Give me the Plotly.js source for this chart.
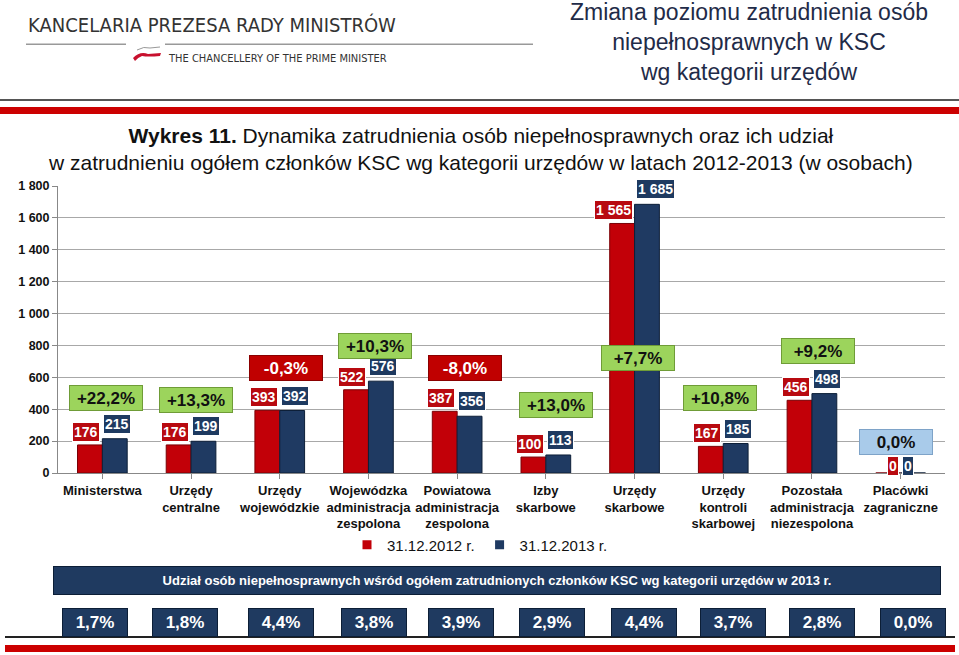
<!DOCTYPE html>
<html>
<head>
<meta charset="utf-8">
<script src="https://cdn.plot.ly/plotly-3.0.1.min.js"></script>
<style>html,body{margin:0;padding:0;background:#fff;}#chart{width:959px;height:655px;}</style>
</head>
<body>
<div id="chart"></div>
<script>
// ---- data ----
const categories = ['Ministerstwa','Urzędy<br>centralne','Urzędy<br>wojewódzkie','Wojewódzka<br>administracja<br>zespolona','Powiatowa<br>administracja<br>zespolona','Izby<br>skarbowe','Urzędy<br>skarbowe','Urzędy<br>kontroli<br>skarbowej','Pozostała<br>administracja<br>niezespolona','Placówki<br>zagraniczne'];
const emp2012 = [176, 176, 393, 522, 387, 100, 1565, 167, 456, 0];
const emp2013 = [215, 199, 392, 576, 356, 113, 1685, 185, 498, 0];
const changeLabels = ['+22,2%','+13,3%','-0,3%','+10,3%','-8,0%','+13,0%','+7,7%','+10,8%','+9,2%','0,0%'];
const shareLabels = ['1,7%','1,8%','4,4%','3,8%','3,9%','2,9%','4,4%','3,7%','2,8%','0,0%'];
const yTickVals = [0, 200, 400, 600, 800, 1000, 1200, 1400, 1600, 1800];
const seriesNames = ['31.12.2012 r.', '31.12.2013 r.'];

// ---- layout helpers (positions / styles) ----
const changeShiftY = [41, 41, 42, 35, 43, 50, -154, 46, 43, 31];
const changeShiftX = [4, 5, 6, 7, 8, 10, 3, -3, 6, -5];
const shareShiftX = [-7, -6, 1, 6, 4, 6, 9, 10, 10, 12];
const RED = '#C20008', BLUE = '#1F3A62';
const FONT = 'Liberation Sans, Arial, sans-serif';

function fmt(n) { return String(n).replace(/\B(?=(\d{3})+(?!\d))/g, ' '); }

const idx = categories.map((c, i) => i);

const traces = [
  {type: 'bar', name: seriesNames[0], x: idx, y: emp2012, showlegend: false, legendgroup: 'a',
   marker: {color: RED, line: {color: '#7a0006', width: 1}}, hoverinfo: 'skip'},
  {type: 'bar', name: seriesNames[1], x: idx, y: emp2013, showlegend: false, legendgroup: 'b',
   marker: {color: BLUE, line: {color: '#0d1f38', width: 1}}, hoverinfo: 'skip'},
  {type: 'scatter', mode: 'markers', name: seriesNames[0], x: [null], y: [null], legendgroup: 'a',
   marker: {symbol: 'square', size: 9, color: RED}},
  {type: 'scatter', mode: 'markers', name: seriesNames[1], x: [null], y: [null], legendgroup: 'b',
   marker: {symbol: 'square', size: 9, color: BLUE}}
];

const annotations = [];
const shapes = [];

// value labels
idx.forEach(i => {
  annotations.push({x: i, y: emp2012[i], xref: 'x', yref: 'y', text: '<b>' + fmt(emp2012[i]) + '</b>',
    showarrow: false, xanchor: 'right', yanchor: 'middle', xshift: -2, yshift: emp2012[i] === 0 ? 7 : 13,
    font: {family: FONT, size: 14, color: '#fff'}, bgcolor: '#B80A10', bordercolor: '#ffffff', borderwidth: 1, borderpad: 1});
  annotations.push({x: i, y: emp2013[i], xref: 'x', yref: 'y', text: '<b>' + fmt(emp2013[i]) + '</b>',
    showarrow: false, xanchor: 'left', yanchor: 'middle', xshift: 1, yshift: emp2013[i] === 0 ? 7 : 15,
    font: {family: FONT, size: 14, color: '#fff'}, bgcolor: '#1E3A60', bordercolor: '#ffffff', borderwidth: 1, borderpad: 1});
  // change boxes
  const lab = changeLabels[i];
  let bg = '#9CD45C', bc = '#6f9c37', fc = '#111';
  if (lab.charAt(0) === '-') { bg = '#C00000'; bc = '#8a0000'; fc = '#fff'; }
  else if (lab.charAt(0) !== '+') { bg = '#A9CBEA'; bc = '#7ea3c8'; fc = '#111'; }
  annotations.push({x: i, y: Math.max(emp2012[i], emp2013[i]), xref: 'x', yref: 'y', text: '<b>' + lab + '</b>',
    showarrow: false, xanchor: 'center', yanchor: 'middle', xshift: changeShiftX[i], yshift: changeShiftY[i],
    width: 70, height: 22, font: {family: FONT, size: 17, color: fc}, bgcolor: bg, bordercolor: bc, borderwidth: 1});
  // share boxes
  annotations.push({x: i, y: 1 - 622 / 655, xref: 'x', yref: 'paper', text: '<b>' + shareLabels[i] + '</b>',
    showarrow: false, xanchor: 'center', yanchor: 'middle', xshift: shareShiftX[i],
    width: 62, height: 25, font: {family: FONT, size: 17, color: '#fff'}, bgcolor: '#1F3A60', bordercolor: '#0c1e36', borderwidth: 1});
});

// banner
annotations.push({x: 497 / 959, y: 1 - 580 / 655, xref: 'paper', yref: 'paper', showarrow: false, xanchor: 'center', yanchor: 'middle',
  text: '<b>Udział osób niepełnosprawnych wśród ogółem zatrudnionych członków KSC wg kategorii urzędów w 2013 r.</b>',
  width: 884, height: 25, font: {family: FONT, size: 13, color: '#fff'}, bgcolor: '#1F3A60', bordercolor: '#0c1e36', borderwidth: 1});

// chart title
annotations.push({x: 480 / 959, y: 1 - 149 / 655, xref: 'paper', yref: 'paper', showarrow: false, xanchor: 'center', yanchor: 'middle',
  text: '<b>Wykres 11.</b> Dynamika zatrudnienia osób niepełnosprawnych oraz ich udział<br>w zatrudnieniu ogółem członków KSC wg kategorii urzędów w latach 2012-2013 (w osobach)',
  font: {family: FONT, size: 21, color: '#111'}});

// page title top-right
annotations.push({x: 749 / 959, y: 1 - 42 / 655, xref: 'paper', yref: 'paper', showarrow: false, xanchor: 'center', yanchor: 'middle',
  text: 'Zmiana poziomu zatrudnienia osób<br>niepełnosprawnych w KSC<br>wg kategorii urzędów',
  font: {family: FONT, size: 23, color: '#1F2B48'}});

// logo texts
annotations.push({x: 26 / 959, y: 1 - 25 / 655, xref: 'paper', yref: 'paper', showarrow: false, xanchor: 'left', yanchor: 'middle',
  text: 'KANCELARIA PREZESA RADY MINISTRÓW', font: {family: 'DejaVu Sans Condensed, DejaVu Sans, sans-serif', size: 20, color: '#333'}});
annotations.push({x: 166 / 959, y: 1 - 58 / 655, xref: 'paper', yref: 'paper', showarrow: false, xanchor: 'left', yanchor: 'middle',
  text: 'THE CHANCELLERY OF THE PRIME MINISTER', font: {family: 'DejaVu Sans Condensed, DejaVu Sans, sans-serif', size: 11, color: '#333'}});

// header / footer lines
function pxRect(x0, y0, x1, y1, color) {
  shapes.push({type: 'rect', xref: 'paper', yref: 'paper', x0: x0 / 959, x1: x1 / 959, y0: 1 - y1 / 655, y1: 1 - y0 / 655,
    fillcolor: color, line: {width: 0}, layer: 'above'});
}
pxRect(26, 43.5, 126, 45, '#999');
pxRect(165, 43.5, 533, 45, '#999');
pxRect(0, 99, 959, 101, '#555');
pxRect(0, 107, 959, 114, '#CC0000');
pxRect(5, 636, 955, 638, '#222');
pxRect(5, 645, 955, 652, '#CC0000');
// small flag mark
function P(x, y) { return (x / 959) + ' ' + (1 - y / 655); }
shapes.push({type: 'path', xref: 'paper', yref: 'paper', layer: 'above',
  path: 'M ' + P(133, 58) + ' Q ' + P(140, 51) + ' ' + P(148, 54) + ' L ' + P(161, 53) + ' L ' + P(160, 56) +
        ' Q ' + P(148, 57) + ' ' + P(142, 56) + ' Q ' + P(137, 58) + ' ' + P(135, 61) + ' Z',
  fillcolor: '#C8102E', line: {width: 0}});
shapes.push({type: 'path', xref: 'paper', yref: 'paper', layer: 'above',
  path: 'M ' + P(137, 50) + ' Q ' + P(144, 46) + ' ' + P(150, 48) + ' L ' + P(160, 47),
  line: {color: '#999', width: 1}});

const layout = {
  width: 959, height: 655,
  margin: {l: 0, r: 0, t: 0, b: 0},
  paper_bgcolor: '#fff', plot_bgcolor: 'rgba(0,0,0,0)',
  barmode: 'group', bargap: 0.44, bargroupgap: 0.0,
  showlegend: true,
  legend: {orientation: 'h', x: 480 / 959, xanchor: 'center', y: 1 - 545 / 655, yanchor: 'middle',
    font: {family: FONT, size: 15, color: '#111'}, traceorder: 'normal', itemwidth: 30, tracegroupgap: 0,
    bgcolor: 'rgba(0,0,0,0)'},
  xaxis: {domain: [58 / 959, 945 / 959], range: [-0.5, 9.5], tickmode: 'array', tickvals: idx, ticktext: categories,
    tickson: 'boundaries', ticks: 'outside', ticklen: 5, tickcolor: '#888', showline: true, linecolor: '#888', linewidth: 1,
    showgrid: false, zeroline: false, tickangle: 0,
    tickfont: {family: FONT, size: 13, color: '#111', weight: 'bold'}},
  yaxis: {domain: [1 - 473 / 655, 1 - 186 / 655], range: [0, 1800], tickmode: 'array', tickvals: yTickVals,
    ticktext: yTickVals.map(fmt), ticks: 'outside', ticklen: 5, tickcolor: '#888', showline: true, linecolor: '#888',
    showgrid: true, gridcolor: '#A8A8A8', gridwidth: 1, zeroline: false,
    tickfont: {family: FONT, size: 12.5, color: '#111', weight: 'bold'}},
  annotations: annotations,
  shapes: shapes,
  font: {family: FONT}
};

Plotly.newPlot('chart', traces, layout, {displayModeBar: false, staticPlot: true});
</script>
</body>
</html>
